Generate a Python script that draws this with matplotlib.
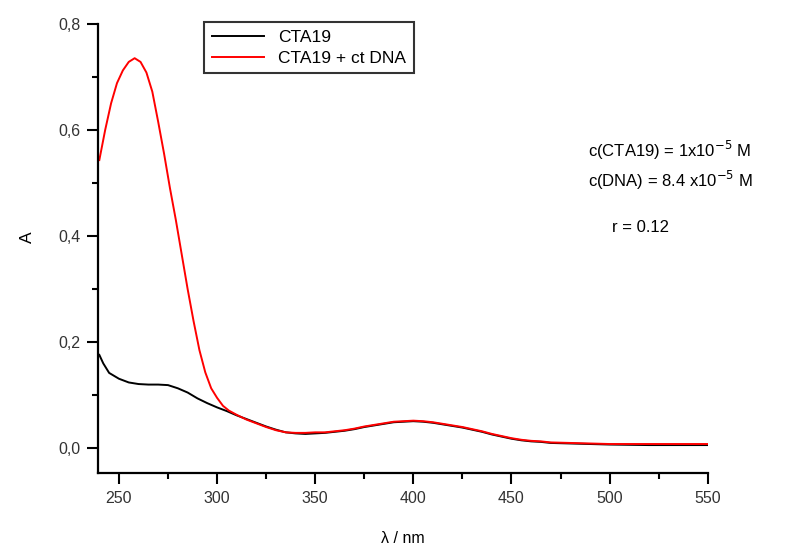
import numpy as np
import matplotlib
matplotlib.use("Agg")
from matplotlib import pyplot as plt
from matplotlib.ticker import MultipleLocator, FuncFormatter

plt.rcParams['font.family'] = ['Liberation Sans', 'DejaVu Sans']

# CTA19 alone
wl_cta = [240, 242, 245, 250, 255, 260, 265, 270, 275, 280, 285, 290, 295, 300,
          305, 310, 315, 320, 325, 330, 335, 340, 345, 350, 355, 360, 365, 370,
          375, 380, 385, 390, 395, 400, 405, 410, 415, 420, 425, 430, 435, 440,
          445, 450, 455, 460, 465, 470, 480, 490, 500, 520, 550]
abs_cta = [0.176, 0.160, 0.142, 0.131, 0.124, 0.121, 0.120, 0.120, 0.119, 0.113,
           0.105, 0.094, 0.085, 0.077, 0.070, 0.062, 0.055, 0.048, 0.041, 0.035,
           0.030, 0.028, 0.027, 0.028, 0.029, 0.031, 0.033, 0.036, 0.040, 0.043,
           0.046, 0.049, 0.050, 0.051, 0.050, 0.048, 0.045, 0.042, 0.039, 0.035,
           0.031, 0.026, 0.022, 0.018, 0.015, 0.013, 0.012, 0.010, 0.009, 0.008,
           0.007, 0.006, 0.006]

# CTA19 + ct DNA
wl_dna = [240, 243, 246, 249, 252, 255, 258, 261, 264, 267, 270, 273, 276, 279,
          282, 285, 288, 291, 294, 297, 300, 303, 306, 310, 315, 320, 325, 330,
          335, 340, 345, 350, 355, 360, 365, 370, 375, 380, 385, 390, 395, 400,
          405, 410, 415, 420, 425, 430, 435, 440, 445, 450, 455, 460, 465, 470,
          480, 490, 500, 520, 550]
abs_dna = [0.543, 0.600, 0.650, 0.688, 0.712, 0.728, 0.735, 0.728, 0.708, 0.672,
           0.615, 0.555, 0.490, 0.430, 0.365, 0.300, 0.240, 0.185, 0.143, 0.113,
           0.095, 0.080, 0.071, 0.063, 0.054, 0.047, 0.040, 0.034, 0.030, 0.029,
           0.029, 0.030, 0.030, 0.032, 0.034, 0.037, 0.041, 0.044, 0.047, 0.050,
           0.051, 0.052, 0.051, 0.049, 0.046, 0.043, 0.040, 0.036, 0.032, 0.027,
           0.023, 0.019, 0.016, 0.014, 0.013, 0.011, 0.010, 0.009, 0.008, 0.008,
           0.008]

fig = plt.figure(figsize=(8.08, 5.46), dpi=100)
ax = fig.add_axes([0.1217, 0.1343, 0.7542, 0.8223])

ax.plot(wl_cta, abs_cta, color='black', lw=1.4, label='CTA19')
ax.plot(wl_dna, abs_dna, color='red', lw=1.4, label='CTA19 + ct DNA')

ax.set_xlim(239.5, 550)
ax.set_ylim(-0.046, 0.8)
ax.xaxis.set_major_locator(MultipleLocator(50))
ax.xaxis.set_minor_locator(MultipleLocator(25))
ax.yaxis.set_major_locator(MultipleLocator(0.2))
ax.yaxis.set_minor_locator(MultipleLocator(0.1))
ax.yaxis.set_major_formatter(FuncFormatter(lambda v, p: ('%.1f' % v).replace('.', ',')))

for s in ['top', 'right']:
    ax.spines[s].set_visible(False)
for s in ['left', 'bottom']:
    ax.spines[s].set_linewidth(1.6)
ax.tick_params(which='major', direction='out', length=8, width=1.5,
               labelsize=11.5, pad=5, labelcolor='#333333')
ax.tick_params(which='minor', direction='out', length=4, width=1.5)

ax.set_xlabel('λ / nm', fontsize=11.5, labelpad=18)
ax.set_ylabel('A', fontsize=12.5)
ax.yaxis.set_label_coords(-0.104, 0.525)

leg = ax.legend(loc='upper left', bbox_to_anchor=(0.1735, 1.003), fontsize=12.5,
                frameon=True, fancybox=False, handlelength=3.0, borderpad=0.45,
                labelspacing=0.3, borderaxespad=0)
leg.get_frame().set_edgecolor('black')
leg.get_frame().set_linewidth(1.5)

fig.text(588 / 808, 1 - 150 / 546, 'c(CTA19) = 1x10$^{-5}$ M', fontsize=12, va='center')
fig.text(588 / 808, 1 - 180 / 546, 'c(DNA) = 8.4 x10$^{-5}$ M', fontsize=12, va='center')
fig.text(612 / 808, 1 - 227 / 546, 'r = 0.12', fontsize=12, va='center')

fig.savefig('out.png', dpi=100)
